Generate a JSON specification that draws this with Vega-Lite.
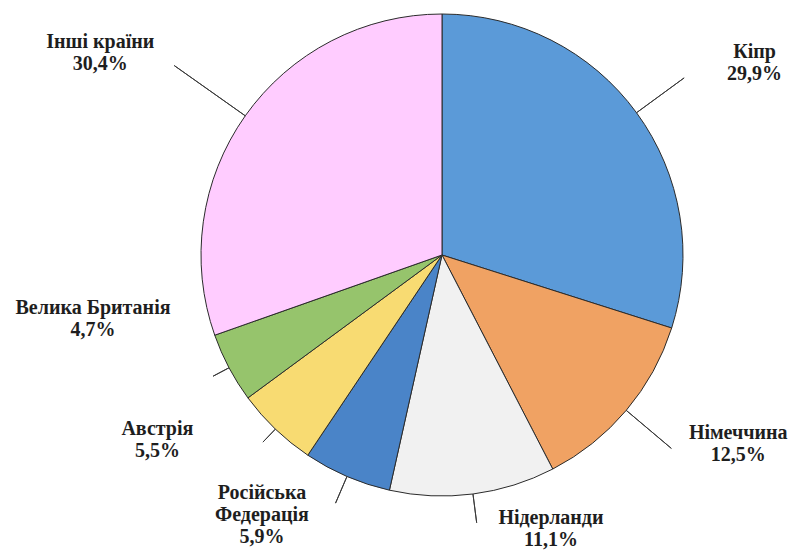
{
  "$schema": "https://vega.github.io/schema/vega-lite/v6.json",
  "width": 680,
  "height": 500,
  "autosize": {"type": "none"},
  "padding": {"left": 102, "top": 5, "right": 12, "bottom": 46},
  "background": "white",
  "view": {"stroke": null},
  "config": {
    "text": {"font": "Liberation Serif", "fontSize": 20, "fontWeight": "bold", "lineHeight": 22, "align": "center", "baseline": "middle", "lineBreak": "\n", "color": "#1e1e1e"},
    "arc": {"stroke": "#3a3a3a", "strokeWidth": 1}
  },
  "data": {"values": [
    {"name": "Кіпр", "value": 29.9, "order": 1},
    {"name": "Німеччина", "value": 12.5, "order": 2},
    {"name": "Нідерланди", "value": 11.1, "order": 3},
    {"name": "Російська Федерація", "value": 5.9, "order": 4},
    {"name": "Австрія", "value": 5.5, "order": 5},
    {"name": "Велика Британія", "value": 4.7, "order": 6},
    {"name": "Інші країни", "value": 30.4, "order": 7}
  ]},
  "transform": [
    {"stack": "value", "groupby": [], "sort": [{"field": "order", "order": "ascending"}], "as": ["v0", "v1"]},
    {"calculate": "(datum.v0 + datum.v1) / 2", "as": "mid"},
    {"calculate": "replace(format(datum.value, '.1f'), '.', ',') + '%'", "as": "pct"},
    {"calculate": "replace(datum.name, 'Російська ', 'Російська\\n') + '\\n' + datum.pct", "as": "txt"}
  ],
  "layer": [
    {
      "mark": {"type": "arc", "outerRadius": 241, "stroke": "#2b2b2b", "strokeWidth": 1},
      "encoding": {
        "theta": {"field": "v0", "type": "quantitative", "stack": null, "scale": {"domain": [0, 100]}},
        "theta2": {"field": "v1"},
        "color": {
          "field": "name", "type": "nominal", "legend": null,
          "scale": {
            "domain": ["Кіпр", "Німеччина", "Нідерланди", "Російська Федерація", "Австрія", "Велика Британія", "Інші країни"],
            "range": ["#5b9ad8", "#f0a263", "#f1f1f1", "#4a84c8", "#f8db72", "#96c46c", "#ffccff"]
          }
        }
      }
    },
    {
      "transform": [{"filter": "datum.order == 1 || datum.order == 2"}],
      "mark": {"type": "arc", "innerRadius": 241, "outerRadius": 300, "padAngle": 3, "fillOpacity": 0},
      "encoding": {"theta": {"field": "v0", "type": "quantitative", "stack": null, "scale": {"domain": [0, 100]}}, "theta2": {"field": "v1"}}
    },
    {
      "transform": [{"filter": "datum.order == 3 || datum.order == 4"}],
      "mark": {"type": "arc", "innerRadius": 241, "outerRadius": 270, "padAngle": 3, "fillOpacity": 0},
      "encoding": {"theta": {"field": "v0", "type": "quantitative", "stack": null, "scale": {"domain": [0, 100]}}, "theta2": {"field": "v1"}}
    },
    {
      "transform": [{"filter": "datum.order == 5 || datum.order == 6"}],
      "mark": {"type": "arc", "innerRadius": 241, "outerRadius": 259, "padAngle": 3, "fillOpacity": 0},
      "encoding": {"theta": {"field": "v0", "type": "quantitative", "stack": null, "scale": {"domain": [0, 100]}}, "theta2": {"field": "v1"}}
    },
    {
      "transform": [{"filter": "datum.order == 7"}],
      "mark": {"type": "arc", "innerRadius": 241, "outerRadius": 328, "padAngle": 3, "fillOpacity": 0},
      "encoding": {"theta": {"field": "v0", "type": "quantitative", "stack": null, "scale": {"domain": [0, 100]}}, "theta2": {"field": "v1"}}
    },
    {
      "transform": [{"filter": "datum.order == 1"}],
      "mark": {"type": "text", "radius": 241, "dx": 118, "dy": -61},
      "encoding": {"theta": {"field": "mid", "type": "quantitative", "stack": null, "scale": {"domain": [0, 100]}}, "text": {"field": "txt"}}
    },
    {
      "transform": [{"filter": "datum.order == 2"}],
      "mark": {"type": "text", "radius": 241, "dx": 112, "dy": 23},
      "encoding": {"theta": {"field": "mid", "type": "quantitative", "stack": null, "scale": {"domain": [0, 100]}}, "text": {"field": "txt"}}
    },
    {
      "transform": [{"filter": "datum.order == 3"}],
      "mark": {"type": "text", "radius": 241, "dx": 78, "dy": 24},
      "encoding": {"theta": {"field": "mid", "type": "quantitative", "stack": null, "scale": {"domain": [0, 100]}}, "text": {"field": "txt"}}
    },
    {
      "transform": [{"filter": "datum.order == 4"}],
      "mark": {"type": "text", "radius": 241, "dx": -85, "dy": 17},
      "encoding": {"theta": {"field": "mid", "type": "quantitative", "stack": null, "scale": {"domain": [0, 100]}}, "text": {"field": "txt"}}
    },
    {
      "transform": [{"filter": "datum.order == 5"}],
      "mark": {"type": "text", "radius": 241, "dx": -118, "dy": 0},
      "encoding": {"theta": {"field": "mid", "type": "quantitative", "stack": null, "scale": {"domain": [0, 100]}}, "text": {"field": "txt"}}
    },
    {
      "transform": [{"filter": "datum.order == 6"}],
      "mark": {"type": "text", "radius": 241, "dx": -136, "dy": -60},
      "encoding": {"theta": {"field": "mid", "type": "quantitative", "stack": null, "scale": {"domain": [0, 100]}}, "text": {"field": "txt"}}
    },
    {
      "transform": [{"filter": "datum.order == 7"}],
      "mark": {"type": "text", "radius": 241, "dx": -145, "dy": -74},
      "encoding": {"theta": {"field": "mid", "type": "quantitative", "stack": null, "scale": {"domain": [0, 100]}}, "text": {"field": "txt"}}
    }
  ]
}
